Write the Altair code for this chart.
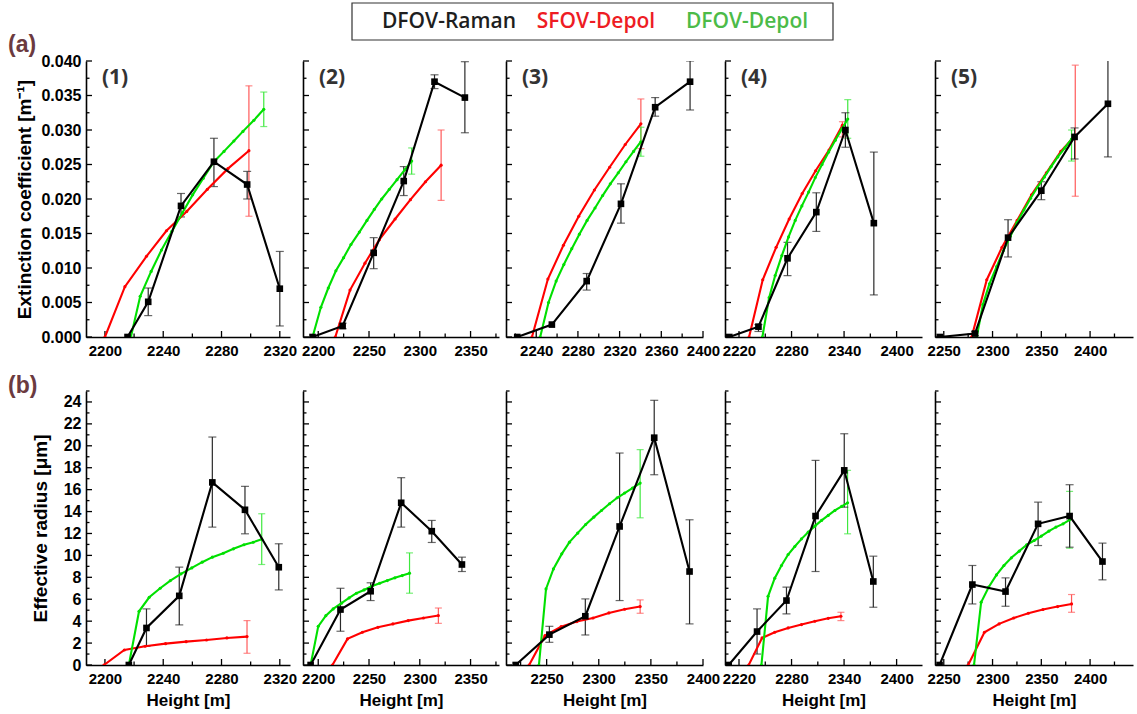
import altair as alt
import pandas as pd

# ---------------- (a) Extinction coefficient [1/m] ----------------
A1_RAMAN_H = [2215.5, 2229.7, 2252.2, 2274.8, 2297.6, 2320.0]
A1_RAMAN_V = [0.0, 0.0051, 0.0190, 0.0254, 0.0221, 0.0070]
A1_RAMAN_LO = [None, 0.0031, 0.0174, 0.0218, 0.0200, 0.0016]
A1_RAMAN_HI = [None, 0.0071, 0.0208, 0.0288, 0.0240, 0.0124]
A1_SFOV_H = [2200.0, 2213.7, 2228.5, 2242.2, 2256.1, 2270.3, 2284.4, 2298.8]
A1_SFOV_V = [0.0, 0.0073, 0.0117, 0.0154, 0.0182, 0.0214, 0.0244, 0.0270]
A1_SFOV_ERR = [0.0175, 0.0364]
A1_DFOV_H = [2217.8, 2224.2, 2231.7, 2238.8, 2245.9, 2253.2, 2260.2, 2267.5, 2274.8, 2281.7, 2288.5, 2294.7, 2302.2, 2309.0]
A1_DFOV_V = [0.0, 0.0059, 0.0095, 0.0126, 0.0153, 0.0180, 0.0206, 0.0230, 0.0254, 0.0269, 0.0284, 0.0298, 0.0314, 0.0330]
A1_DFOV_ERR = [0.0305, 0.0355]

A2_RAMAN_H = [2194.4, 2224.0, 2254.6, 2284.2, 2314.5, 2344.4]
A2_RAMAN_V = [0.0, 0.0016, 0.0122, 0.0226, 0.0370, 0.0347]
A2_RAMAN_LO = [None, 0.0012, 0.0099, 0.0205, 0.0360, 0.0296]
A2_RAMAN_HI = [None, 0.0020, 0.0144, 0.0247, 0.0380, 0.0399]
A2_SFOV_H = [2216.8, 2231.3, 2246.0, 2260.2, 2275.7, 2290.8, 2305.6, 2321.0]
A2_SFOV_V = [0.0, 0.0068, 0.0107, 0.0141, 0.0171, 0.0199, 0.0225, 0.0249]
A2_SFOV_ERR = [0.0198, 0.0300]
A2_DFOV_H = [2194.4, 2202.6, 2209.9, 2217.4, 2225.0, 2232.2, 2240.5, 2248.0, 2255.3, 2262.5, 2270.0, 2277.6, 2285.0, 2292.0]
A2_DFOV_V = [0.0, 0.0043, 0.0071, 0.0096, 0.0115, 0.0134, 0.0152, 0.0169, 0.0185, 0.0200, 0.0214, 0.0228, 0.0242, 0.0255]
A2_DFOV_ERR = [0.0236, 0.0274]

A3_RAMAN_H = [2221.8, 2255.0, 2288.4, 2321.3, 2354.1, 2387.6]
A3_RAMAN_V = [0.0, 0.0018, 0.0081, 0.0193, 0.0333, 0.0370]
A3_RAMAN_LO = [None, None, 0.0068, 0.0165, 0.0320, 0.0329]
A3_RAMAN_HI = [None, None, 0.0092, 0.0222, 0.0347, 0.0400]
A3_SFOV_H = [2235.9, 2251.2, 2266.1, 2280.8, 2295.8, 2310.4, 2325.4, 2340.4]
A3_SFOV_V = [0.0, 0.0084, 0.0133, 0.0175, 0.0213, 0.0246, 0.0279, 0.0309]
A3_SFOV_ERR = [0.0273, 0.0345]
A3_DFOV_H = [2243.8, 2251.8, 2259.1, 2266.5, 2274.1, 2281.4, 2288.8, 2296.4, 2303.7, 2311.1, 2318.7, 2326.1, 2333.4, 2340.4]
A3_DFOV_V = [0.0, 0.0050, 0.0081, 0.0105, 0.0128, 0.0149, 0.0169, 0.0187, 0.0205, 0.0222, 0.0238, 0.0254, 0.0269, 0.0283]
A3_DFOV_ERR = [0.0262, 0.0304]

A4_RAMAN_H = [2208.9, 2242.2, 2275.4, 2308.3, 2341.5, 2374.0]
A4_RAMAN_V = [0.0, 0.0015, 0.0114, 0.0181, 0.0300, 0.0165]
A4_RAMAN_LO = [None, 0.0008, 0.0089, 0.0153, 0.0275, 0.0061]
A4_RAMAN_HI = [None, 0.0018, 0.0137, 0.0209, 0.0325, 0.0268]
A4_SFOV_H = [2231.5, 2247.1, 2262.4, 2277.3, 2292.2, 2307.5, 2322.8, 2338.1]
A4_SFOV_V = [0.0, 0.0083, 0.0130, 0.0171, 0.0208, 0.0241, 0.0271, 0.0307]
A4_SFOV_ERR = [0.0290, 0.0312]
A4_DFOV_H = [2246.7, 2254.4, 2261.3, 2268.9, 2276.6, 2284.2, 2291.8, 2299.5, 2307.1, 2314.8, 2322.4, 2330.0, 2337.7, 2344.2]
A4_DFOV_V = [0.0, 0.0057, 0.0089, 0.0118, 0.0145, 0.0169, 0.0190, 0.0210, 0.0231, 0.0250, 0.0268, 0.0285, 0.0302, 0.0316]
A4_DFOV_ERR = [0.0288, 0.0344]

A5_RAMAN_H = [2245.9, 2282.0, 2315.9, 2350.0, 2384.1, 2418.3]
A5_RAMAN_V = [0.0, 0.0005, 0.0144, 0.0212, 0.0290, 0.0338]
A5_RAMAN_LO = [None, 0.0002, 0.0116, 0.0199, 0.0258, 0.0261]
A5_RAMAN_HI = [None, 0.0008, 0.0170, 0.0225, 0.0303, 0.0403]
A5_SFOV_H = [2278.6, 2294.1, 2309.7, 2325.2, 2340.0, 2355.2, 2370.0, 2384.8]
A5_SFOV_V = [0.0, 0.0083, 0.0130, 0.0169, 0.0206, 0.0238, 0.0269, 0.0292]
A5_SFOV_ERR = [0.0204, 0.0394]
A5_DFOV_H = [2283.8, 2290.1, 2296.8, 2304.2, 2311.0, 2318.3, 2325.1, 2332.2, 2339.0, 2346.1, 2353.2, 2360.1, 2366.9, 2374.2, 2381.0]
A5_DFOV_V = [0.0, 0.0047, 0.0077, 0.0102, 0.0125, 0.0146, 0.0166, 0.0184, 0.0201, 0.0217, 0.0232, 0.0247, 0.0261, 0.0274, 0.0287]
A5_DFOV_ERR = [0.0255, 0.0300]

# ---------------- (b) Effective radius [um] ----------------
B1_RAMAN_H = [2216.4, 2228.5, 2251.0, 2273.7, 2296.1, 2319.3]
B1_RAMAN_V = [0.0, 3.38, 6.31, 16.66, 14.16, 8.92]
B1_RAMAN_LO = [None, 1.71, 3.66, 12.58, 11.97, 6.85]
B1_RAMAN_HI = [None, 5.12, 8.93, 20.80, 16.30, 11.06]
B1_SFOV_H = [2199.3, 2213.3, 2227.6, 2241.6, 2255.7, 2269.7, 2283.7, 2297.5]
B1_SFOV_V = [0.0, 1.37, 1.71, 1.95, 2.13, 2.28, 2.47, 2.59]
B1_SFOV_ERR = [1.07, 4.05]
B1_DFOV_H = [2216.4, 2223.4, 2230.4, 2237.9, 2244.9, 2252.2, 2259.6, 2266.7, 2273.7, 2281.2, 2288.2, 2295.4, 2301.8, 2307.6]
B1_DFOV_V = [0.0, 4.90, 6.18, 7.00, 7.70, 8.32, 8.86, 9.38, 9.84, 10.20, 10.60, 10.97, 11.20, 11.48]
B1_DFOV_ERR = [9.17, 13.80]

B2_RAMAN_H = [2192.5, 2221.9, 2251.6, 2281.7, 2311.8, 2341.5]
B2_RAMAN_V = [0.0, 5.06, 6.73, 14.80, 12.21, 9.17]
B2_RAMAN_LO = [None, 3.08, 5.88, 12.58, 11.18, 8.53]
B2_RAMAN_HI = [None, 7.00, 7.50, 17.09, 13.19, 9.84]
B2_SFOV_H = [2214.0, 2228.8, 2243.5, 2258.8, 2273.5, 2288.6, 2303.6, 2318.3]
B2_SFOV_V = [0.0, 2.38, 2.99, 3.44, 3.75, 4.05, 4.29, 4.51]
B2_SFOV_ERR = [3.80, 5.20]
B2_DFOV_H = [2192.5, 2200.0, 2207.5, 2214.7, 2222.9, 2230.4, 2237.6, 2245.1, 2252.6, 2260.5, 2268.0, 2275.5, 2282.7, 2289.9]
B2_DFOV_V = [0.0, 3.53, 4.50, 5.12, 5.64, 6.12, 6.55, 6.85, 7.19, 7.46, 7.70, 7.95, 8.16, 8.38]
B2_DFOV_ERR = [6.55, 10.23]

B3_RAMAN_H = [2220.3, 2252.6, 2287.1, 2320.0, 2353.2, 2387.1]
B3_RAMAN_V = [0.0, 2.77, 4.45, 12.64, 20.74, 8.53]
B3_RAMAN_LO = [None, 2.07, 2.74, 5.88, 17.36, 3.75]
B3_RAMAN_HI = [None, 3.53, 6.03, 19.34, 24.15, 13.25]
B3_SFOV_H = [2233.2, 2248.4, 2263.9, 2279.0, 2294.5, 2309.7, 2324.8, 2339.7]
B3_SFOV_V = [0.0, 2.68, 3.50, 3.96, 4.29, 4.75, 5.09, 5.33]
B3_SFOV_ERR = [4.72, 5.94]
B3_DFOV_H = [2242.6, 2249.4, 2256.5, 2264.5, 2271.9, 2279.7, 2287.4, 2295.2, 2302.6, 2310.3, 2317.7, 2324.8, 2332.3, 2339.7]
B3_DFOV_V = [0.0, 6.94, 8.77, 10.14, 11.21, 12.03, 12.82, 13.49, 14.10, 14.71, 15.26, 15.69, 16.14, 16.60]
B3_DFOV_ERR = [13.43, 19.65]

B4_RAMAN_H = [2208.2, 2240.6, 2274.2, 2307.4, 2340.2, 2373.4]
B4_RAMAN_V = [0.0, 3.05, 5.88, 13.59, 17.76, 7.62]
B4_RAMAN_LO = [None, 1.00, 4.66, 8.53, 14.40, 5.27]
B4_RAMAN_HI = [None, 5.12, 7.10, 18.67, 21.10, 9.93]
B4_SFOV_H = [2231.1, 2246.3, 2260.8, 2276.1, 2291.4, 2306.6, 2321.9, 2336.4]
B4_SFOV_V = [0.0, 2.47, 2.99, 3.38, 3.69, 3.99, 4.26, 4.45]
B4_SFOV_ERR = [4.05, 4.81]
B4_DFOV_H = [2245.6, 2253.2, 2260.8, 2268.5, 2276.1, 2283.7, 2291.4, 2299.0, 2306.6, 2314.3, 2321.9, 2329.5, 2337.2, 2344.0]
B4_DFOV_V = [0.0, 6.27, 7.92, 9.08, 10.08, 10.81, 11.51, 12.12, 12.67, 13.19, 13.65, 14.10, 14.47, 14.80]
B4_DFOV_ERR = [11.97, 17.76]

B5_RAMAN_H = [2245.7, 2279.3, 2313.3, 2346.7, 2379.0, 2412.7]
B5_RAMAN_V = [0.0, 7.34, 6.70, 12.88, 13.59, 9.44]
B5_RAMAN_LO = [None, 5.57, 5.36, 10.90, 10.75, 7.77]
B5_RAMAN_HI = [None, 9.08, 7.95, 14.86, 16.45, 11.12]
B5_SFOV_H = [2275.0, 2291.7, 2306.7, 2321.7, 2336.7, 2351.7, 2366.7, 2381.0]
B5_SFOV_V = [0.0, 2.99, 3.75, 4.29, 4.72, 5.06, 5.33, 5.57]
B5_SFOV_ERR = [4.81, 6.43]
B5_DFOV_H = [2281.0, 2288.3, 2296.0, 2304.0, 2311.7, 2319.3, 2327.3, 2335.0, 2342.7, 2350.0, 2357.7, 2365.0, 2372.3, 2379.0]
B5_DFOV_V = [0.0, 5.73, 7.10, 8.22, 9.08, 9.78, 10.39, 10.97, 11.36, 11.76, 12.21, 12.58, 12.88, 13.25]
B5_DFOV_ERR = [10.66, 15.84]

# ---------------- axes ----------------
X_DOMAINS = [[2187, 2327], [2185, 2378], [2211, 2400], [2204, 2429], [2241, 2444]]
X_MAJOR_A = [[2200, 2240, 2280, 2320], [2200, 2250, 2300, 2350], [2240, 2280, 2320, 2360, 2400],
             [2220, 2280, 2340, 2400], [2250, 2300, 2350, 2400]]
X_MAJOR_B = [[2200, 2240, 2280, 2320], [2200, 2250, 2300, 2350], [2250, 2300, 2350, 2400],
             [2220, 2280, 2340, 2400], [2250, 2300, 2350, 2400]]
Y_MAJOR_A = [0.000, 0.005, 0.010, 0.015, 0.020, 0.025, 0.030, 0.035, 0.040]
Y_MINOR_A = [0.0025, 0.0075, 0.0125, 0.0175, 0.0225, 0.0275, 0.0325, 0.0375]
Y_MAJOR_B = [0, 2, 4, 6, 8, 10, 12, 14, 16, 18, 20, 22, 24]
Y_MINOR_B = [1, 3, 5, 7, 9, 11, 13, 15, 17, 19, 21, 23, 25]
Y_DOMAIN_A = [0, 0.04]
Y_DOMAIN_B = [0, 25]
PANEL_LABELS = ["(1)", "(2)", "(3)", "(4)", "(5)"]
LEGEND_NAMES = ["DFOV-Raman", "SFOV-Depol", "DFOV-Depol"]

PLOT_W = [204, 196, 197, 197, 198]     # axis length of each panel
GAP_EXTRA = [6, 0, 15, 6, 0]           # extra empty room to the right of each panel
COL_SPACING = 7
H_A, H_B = 276, 274

BLACK, RED, GREEN = "#000000", "#ff0000", "#00e000"
ERR_BLACK, ERR_RED, ERR_GREEN = "#2a2a2a", "#ff5a5a", "#3ee83e"
LEG_COLORS = ["#1e1e1e", "#ee1c24", "#4cbb48"]
NUM_FONT = "Liberation Sans"

PANELS_A = [
    (A1_RAMAN_H, A1_RAMAN_V, A1_RAMAN_LO, A1_RAMAN_HI, A1_SFOV_H, A1_SFOV_V, A1_SFOV_ERR, A1_DFOV_H, A1_DFOV_V, A1_DFOV_ERR),
    (A2_RAMAN_H, A2_RAMAN_V, A2_RAMAN_LO, A2_RAMAN_HI, A2_SFOV_H, A2_SFOV_V, A2_SFOV_ERR, A2_DFOV_H, A2_DFOV_V, A2_DFOV_ERR),
    (A3_RAMAN_H, A3_RAMAN_V, A3_RAMAN_LO, A3_RAMAN_HI, A3_SFOV_H, A3_SFOV_V, A3_SFOV_ERR, A3_DFOV_H, A3_DFOV_V, A3_DFOV_ERR),
    (A4_RAMAN_H, A4_RAMAN_V, A4_RAMAN_LO, A4_RAMAN_HI, A4_SFOV_H, A4_SFOV_V, A4_SFOV_ERR, A4_DFOV_H, A4_DFOV_V, A4_DFOV_ERR),
    (A5_RAMAN_H, A5_RAMAN_V, A5_RAMAN_LO, A5_RAMAN_HI, A5_SFOV_H, A5_SFOV_V, A5_SFOV_ERR, A5_DFOV_H, A5_DFOV_V, A5_DFOV_ERR),
]
PANELS_B = [
    (B1_RAMAN_H, B1_RAMAN_V, B1_RAMAN_LO, B1_RAMAN_HI, B1_SFOV_H, B1_SFOV_V, B1_SFOV_ERR, B1_DFOV_H, B1_DFOV_V, B1_DFOV_ERR),
    (B2_RAMAN_H, B2_RAMAN_V, B2_RAMAN_LO, B2_RAMAN_HI, B2_SFOV_H, B2_SFOV_V, B2_SFOV_ERR, B2_DFOV_H, B2_DFOV_V, B2_DFOV_ERR),
    (B3_RAMAN_H, B3_RAMAN_V, B3_RAMAN_LO, B3_RAMAN_HI, B3_SFOV_H, B3_SFOV_V, B3_SFOV_ERR, B3_DFOV_H, B3_DFOV_V, B3_DFOV_ERR),
    (B4_RAMAN_H, B4_RAMAN_V, B4_RAMAN_LO, B4_RAMAN_HI, B4_SFOV_H, B4_SFOV_V, B4_SFOV_ERR, B4_DFOV_H, B4_DFOV_V, B4_DFOV_ERR),
    (B5_RAMAN_H, B5_RAMAN_V, B5_RAMAN_LO, B5_RAMAN_HI, B5_SFOV_H, B5_SFOV_V, B5_SFOV_ERR, B5_DFOV_H, B5_DFOV_V, B5_DFOV_ERR),
]


def minor_ticks(major, dom):
    step = major[1] - major[0]
    cand = [m - step / 2 for m in major] + [major[-1] + step / 2]
    return [t for t in cand if dom[0] <= t <= dom[1]]


def series(h, v, X, Y, color, square):
    df = pd.DataFrame({"h": h, "v": v})
    base = alt.Chart(df).encode(x=X("h"), y=Y("v"))
    line = base.mark_line(color=color, strokeWidth=2.1, clip=True)
    if square:
        pts = base.mark_square(color=color, size=44, opacity=1, clip=True)
    else:
        pts = base.mark_circle(color=color, size=10, opacity=1, clip=True)
    return [line, pts]


def errbars(h, lo, hi, X, Y, color, cap):
    df = pd.DataFrame({"h": h, "lo": lo, "hi": hi}).dropna()
    base = alt.Chart(df)
    rule = base.mark_rule(color=color, strokeWidth=1.2, clip=True).encode(
        x=X("h"), y=Y("lo"), y2="hi:Q")
    cap_lo = base.mark_tick(color=color, orient="horizontal", size=cap, thickness=1.2, clip=True).encode(
        x=X("h"), y=Y("lo"))
    cap_hi = base.mark_tick(color=color, orient="horizontal", size=cap, thickness=1.2, clip=True).encode(
        x=X("h"), y=Y("hi"))
    return [rule, cap_lo, cap_hi]


def panel(row, col, d):
    rh, rv, rlo, rhi, sh, sv, serr, dh, dv, derr = d
    height = H_A if row == 0 else H_B
    pw = PLOT_W[col]
    width = pw + GAP_EXTRA[col]
    xs = alt.Scale(domain=X_DOMAINS[col], range=[0, pw], nice=False, zero=False)
    ydom = Y_DOMAIN_A if row == 0 else Y_DOMAIN_B
    ys = alt.Scale(domain=ydom, nice=False, zero=False)
    xmaj = X_MAJOR_A[col] if row == 0 else X_MAJOR_B[col]
    xmin = minor_ticks(xmaj, X_DOMAINS[col])
    ymaj = Y_MAJOR_A if row == 0 else Y_MAJOR_B
    ymin = Y_MINOR_A if row == 0 else Y_MINOR_B

    xaxis_kw = dict(values=xmaj, format="d", ticks=False, grid=False,
                    domainColor="black", domainWidth=1.6,
                    labelFont=NUM_FONT, labelFontSize=15, labelFontWeight="bold",
                    labelColor="black", labelPadding=6, labelFlush=False)
    if row == 1:
        xaxis = alt.Axis(title="Height [m]", titleFont=NUM_FONT, titleFontSize=17,
                         titleFontWeight="bold", titleColor="black", titlePadding=6, **xaxis_kw)
    else:
        xaxis = alt.Axis(title=None, **xaxis_kw)

    if col == 0:
        ytitle = "Extinction coefficient [m⁻¹]" if row == 0 else "Effective radius  [μm]"
        yaxis = alt.Axis(values=ymaj, format=".3f" if row == 0 else "d", ticks=False, grid=False,
                         domainColor="black", domainWidth=1.6,
                         labelFont=NUM_FONT, labelFontSize=16, labelFontWeight="bold",
                         labelColor="black", labelPadding=5, labelFlush=False,
                         title=ytitle, titleFont=NUM_FONT, titleFontSize=19,
                         titleFontWeight="bold", titleColor="black",
                         titlePadding=6 if row == 0 else 13)
    else:
        yaxis = alt.Axis(values=ymaj, labels=False, ticks=False, grid=False, title=None,
                         domainColor="black", domainWidth=1.6)

    def X(f):
        return alt.X(f + ":Q", scale=xs, axis=xaxis)

    def Y(f):
        return alt.Y(f + ":Q", scale=ys, axis=yaxis)

    layers = []
    # inward tick marks
    layers.append(alt.Chart(pd.DataFrame({"t": xmaj})).mark_rule(color="black", strokeWidth=1.3).encode(
        x=X("t"), y=alt.value(height), y2=alt.value(height - 6)))
    layers.append(alt.Chart(pd.DataFrame({"t": xmin})).mark_rule(color="black", strokeWidth=1.3).encode(
        x=X("t"), y=alt.value(height), y2=alt.value(height - 3.5)))
    layers.append(alt.Chart(pd.DataFrame({"t": ymaj})).mark_rule(color="black", strokeWidth=1.3).encode(
        y=Y("t"), x=alt.value(0), x2=alt.value(6)))
    layers.append(alt.Chart(pd.DataFrame({"t": ymin})).mark_rule(color="black", strokeWidth=1.3).encode(
        y=Y("t"), x=alt.value(0), x2=alt.value(3.5)))

    # error bars
    layers += errbars([sh[-1]], [serr[0]], [serr[1]], X, Y, ERR_RED, 7)
    layers += errbars([dh[-1]], [derr[0]], [derr[1]], X, Y, ERR_GREEN, 7)
    layers += errbars(rh, rlo, rhi, X, Y, ERR_BLACK, 8)
    # series
    layers += series(sh, sv, X, Y, RED, False)
    layers += series(dh, dv, X, Y, GREEN, False)
    layers += series(rh, rv, X, Y, BLACK, True)

    if row == 0:
        layers.append(alt.Chart(pd.DataFrame({"t": [PANEL_LABELS[col]]})).mark_text(
            align="left", baseline="middle", font="Open Sans", fontWeight="bold",
            fontSize=21, color="#333333").encode(text="t:N", x=alt.value(16), y=alt.value(17)))
    if col == 0:
        lab = "(a)" if row == 0 else "(b)"
        layers.append(alt.Chart(pd.DataFrame({"t": [lab]})).mark_text(
            align="left", baseline="middle", font=NUM_FONT, fontWeight="bold",
            fontSize=23, color="#6b3a40").encode(text="t:N", x=alt.value(-78),
                                                 y=alt.value(-16 if row == 0 else -5)))
    if row == 0 and col == 2:
        layers.append(alt.Chart(pd.DataFrame({"a": [0]})).mark_rect(
            fill="white", stroke="#333333", strokeWidth=1.2).encode(
            x=alt.value(-154), x2=alt.value(327), y=alt.value(-58), y2=alt.value(-21)))
        legx = [-57, 90, 241]
        for name, lx, lc in zip(LEGEND_NAMES, legx, LEG_COLORS):
            layers.append(alt.Chart(pd.DataFrame({"t": [name]})).mark_text(
                align="center", baseline="middle", font="Open Sans", fontWeight=600,
                fontSize=21, color=lc).encode(text="t:N", x=alt.value(lx), y=alt.value(-39)))

    return alt.layer(*layers).properties(width=width, height=height)


charts = [panel(0, c, PANELS_A[c]) for c in range(5)] + [panel(1, c, PANELS_B[c]) for c in range(5)]

chart = alt.concat(*charts, columns=5, spacing={"row": 54, "column": COL_SPACING},
                   bounds="flush", align="each").properties(
    padding={"left": 8, "top": 2, "right": 2, "bottom": 2}
).configure_view(stroke=None)

chart.save("out.html", embed_options={"renderer": "svg", "actions": False})
